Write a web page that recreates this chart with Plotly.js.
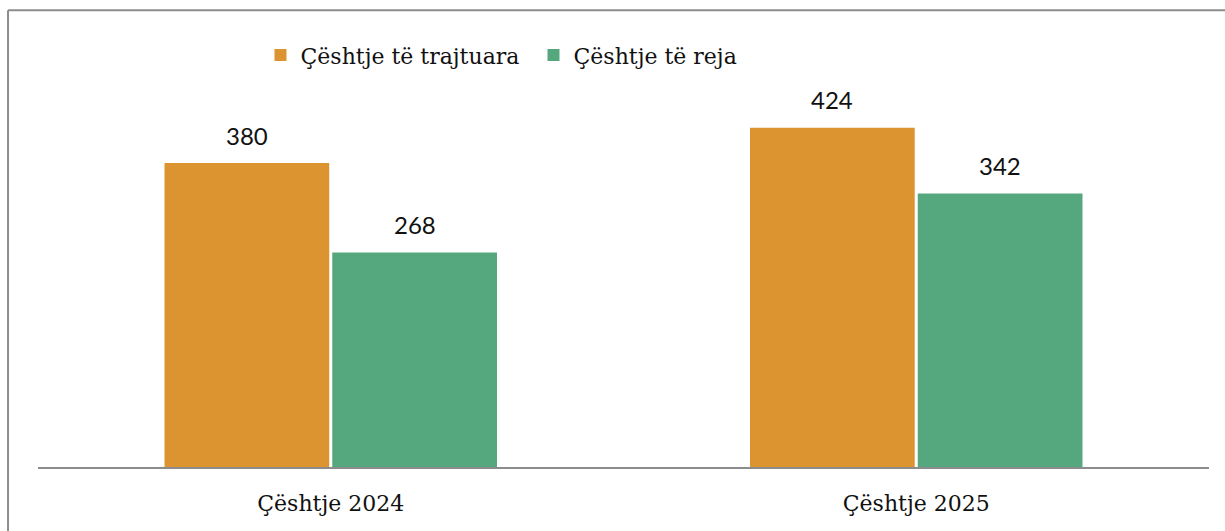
<!DOCTYPE html>
<html><head><meta charset="utf-8">
<script src="https://cdn.plot.ly/plotly-3.0.1.min.js"></script>
<style>html,body{margin:0;padding:0;background:#fff}#c{width:1225px;height:531px}</style>
</head><body><div id="c"></div>
<script>
const categories = ["Çështje 2024", "Çështje 2025"];
const seriesNames = ["Çështje të trajtuara", "Çështje të reja"];
const handled = [380, 424];
const newCases = [268, 342];
const colors = ["#DC9431", "#55A77D"];

const series = [handled, newCases];
const traces = series.map((vals, i) => ({
  type: "bar", name: seriesNames[i], x: categories, y: vals,
  marker: {color: colors[i]}, hoverinfo: "none"
}));

const offsets = [-84, 84];
const annotations = [];
series.forEach((vals, i) => vals.forEach((v, j) => annotations.push({
  x: categories[j], y: v, xref: "x", yref: "y", text: String(v), showarrow: false,
  xshift: offsets[i], yshift: 28, yanchor: "middle",
  font: {family: "Lato", size: 24, color: "#111"}
})));

const serif = "'DejaVu Serif', serif";
const layout = {
  width: 1225, height: 531,
  font: {family: serif, size: 22, color: "#111"},
  margin: {l: 38, r: 16, t: 107, b: 64},
  paper_bgcolor: "#fff", plot_bgcolor: "#fff",
  barmode: "group", bargap: 0.427, bargroupgap: 0.018,
  showlegend: true,
  legend: {orientation: "h", x: 0.19, xanchor: "left", y: 1.144, yanchor: "middle",
    font: {family: serif, size: 22, color: "#111"}, itemwidth: 30, entrywidth: 228},
  xaxis: {showline: true, linecolor: "#8c8c8c", linewidth: 2, ticks: "", showgrid: false,
    tickfont: {family: serif, size: 22, color: "#111"}, ticklabelstandoff: 16},
  yaxis: {range: [0, 450], visible: false, showgrid: false, zeroline: false},
  annotations: annotations,
  shapes: [
    {type: "line", xref: "paper", yref: "paper", x0: -0.0256, x1: 1.05, y0: 1.269, y1: 1.269, line: {color: "#8c8c8c", width: 2}},
    {type: "line", xref: "paper", yref: "paper", x0: -0.0256, x1: -0.0256, y0: 1.269, y1: -0.2, line: {color: "#8c8c8c", width: 2}}
  ]
};
Plotly.newPlot("c", traces, layout, {displayModeBar: false, staticPlot: true});
</script></body></html>
